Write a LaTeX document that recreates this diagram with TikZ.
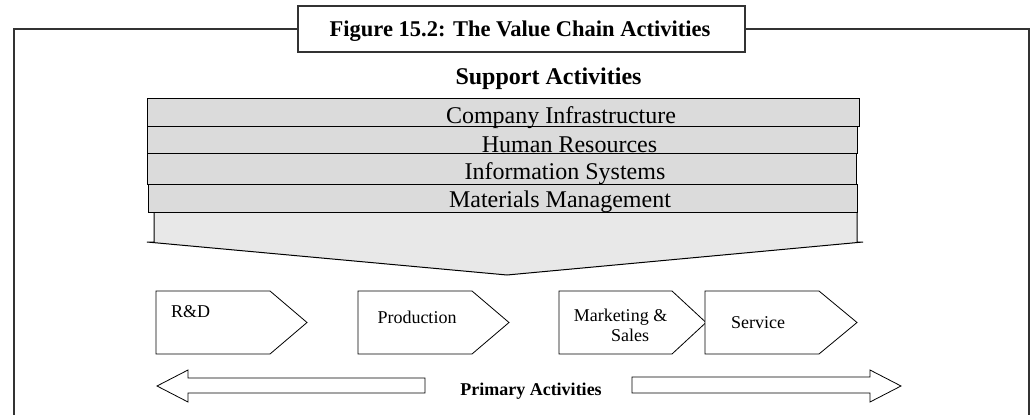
\documentclass[tikz,border=0pt]{standalone}
\usepackage{fontspec}
\setmainfont{Liberation Serif}
\begin{document}
\begin{tikzpicture}[x=1pt,y=-1pt,
  frame/.style={line width=2.5pt, draw=black!80},
  bar/.style={draw=black, line width=1pt, fill=black!14},
  barlow/.style={draw=black, line width=1pt, fill=black!9},
  chev/.style={draw=black, line width=0.8pt, fill=white},
  hollow/.style={draw=black, line width=0.8pt, fill=white},
  bartext/.style={anchor=base, inner sep=0pt, font=\fontsize{24}{26}\selectfont},
  primtext/.style={anchor=base, inner sep=0pt, font=\fontsize{18}{20}\selectfont}]
\useasboundingbox (0,0) rectangle (1034,415);
% outer frame
\node[frame, draw, fill=white, minimum width=447pt, minimum height=46pt, inner sep=0pt] (title) at (521.5,29) {};
\node[anchor=base, inner sep=0pt, font=\bfseries\fontsize{22.5}{24}\selectfont] (titletext) at (520,36.5) {Figure 15.2: The Value Chain Activities};
\draw[frame] (title.west) -- (14,29) -- (14,415);
\draw[frame] (title.east) -- (1029,29) -- (1029,415);
% support activities
\node[anchor=base, inner sep=0pt, font=\bfseries\fontsize{24}{26}\selectfont] (support) at (548.5,84) {Support Activities};
\draw[barlow] (154,212) -- (857,212) -- (857,242) -- (863,242) -- (507,275) -- (147,242) -- (154,242) -- cycle;
\draw[bar] (148,184) rectangle (857,212);
\draw[bar] (147,153) rectangle (856,184);
\draw[bar] (147,126) rectangle (857,153);
\draw[bar] (147,98) rectangle (859,126);
\node[bartext] (infra) at (561,123) {Company Infrastructure};
\node[bartext] (hr) at (569.5,152.5) {Human Resources};
\node[bartext] (is) at (565,179) {Information Systems};
\node[bartext] (mm) at (560,207) {Materials Management};
% primary chevrons
\draw[chev] (156,291) -- (270,291) -- (307,322.5) -- (270,354) -- (156,354) -- cycle;
\draw[chev] (358,291) -- (472,291) -- (509,322.5) -- (472,354) -- (358,354) -- cycle;
\draw[chev] (559,291) -- (672,291) -- (706,322.5) -- (672,354) -- (559,354) -- cycle;
\draw[chev] (705,291) -- (819,291) -- (857,322.5) -- (819,354) -- (705,354) -- cycle;
\node[primtext, anchor=base west] (rd) at (171,317) {R\&D};
\node[primtext] (prod) at (417,323.5) {Production};
\node[primtext] (mkt) at (620.5,321) {Marketing \&};
\node[primtext] (sales) at (630,341) {Sales};
\node[primtext] (serv) at (758,328) {Service};
% primary activities arrows
\draw[hollow] (157,386) -- (188,370) -- (188,378) -- (425,378) -- (425,393) -- (188,393) -- (188,402) -- cycle;
\draw[hollow] (901,386) -- (870,370) -- (870,377) -- (632,377) -- (632,393) -- (870,393) -- (870,402) -- cycle;
\node[anchor=base, inner sep=0pt, font=\bfseries\fontsize{18}{20}\selectfont] (primary) at (531,395) {Primary Activities};
\end{tikzpicture}
\end{document}
